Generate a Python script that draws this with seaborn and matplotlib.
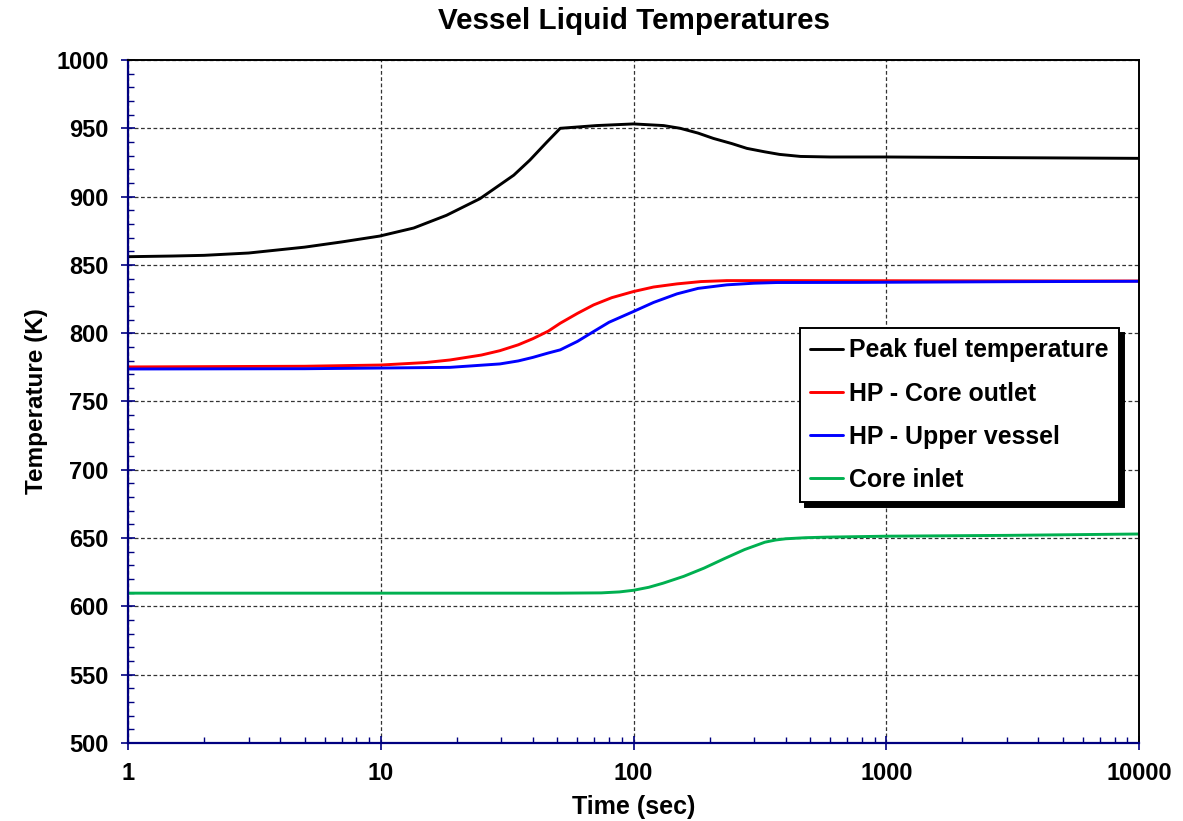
import numpy as np
import pandas as pd
import matplotlib
matplotlib.use("Agg")
import matplotlib.pyplot as plt
from matplotlib.ticker import FixedLocator, FixedFormatter, LogLocator, MultipleLocator, NullFormatter
import seaborn as sns

# Peak fuel temperature
fuel_t = [1, 1.5, 2, 3, 5, 7, 9.9, 13.5, 18.2, 24.7, 33.6, 38.9, 45.3, 51.3, 71.4, 100,
          131.5, 153, 180, 207, 245, 281, 330, 378, 458, 600, 1000, 3000, 10000]
fuel_T = [856, 856.5, 857, 858.7, 863, 866.8, 871.1, 877, 886.3, 898.5, 915.7, 926.7, 939.7, 950,
          952, 953.2, 952, 950, 946.5, 942.6, 938.8, 935.3, 932.8, 930.9, 929.4, 929, 929, 928.5, 928]

# Hot plenum - core outlet
outlet_t = [1, 5, 10, 15, 18.8, 25, 29.6, 35, 40, 46, 51.3, 60, 69.5, 82, 100, 120,
            148.6, 185, 234, 400, 1000, 10000]
outlet_T = [775.3, 775.8, 776.7, 778.5, 780.4, 784, 787.2, 791.5, 796, 801.5, 807.3, 814.5,
            820.7, 826, 830.5, 833.8, 836.1, 837.8, 838.5, 838.5, 838.4, 838.2]

# Hot plenum - upper vessel
upper_t = [1, 5, 10, 18.8, 29.6, 35, 40, 46, 51.3, 60, 69.5, 80, 100, 120, 148.6, 180,
           234, 300, 369, 788, 3000, 10000]
upper_T = [773.8, 774, 774.5, 775, 777.5, 779.7, 782.3, 785.5, 787.8, 794, 801.2, 808, 815.9,
           822.5, 828.8, 832.8, 835.4, 836.6, 837.1, 837.2, 837.7, 838]

# Core inlet
inlet_t = [1, 10, 50, 74.5, 88, 100, 115, 131, 158, 190, 229, 275, 331, 365, 400, 480,
           580, 1000, 3000, 10000]
inlet_T = [609.7, 609.7, 609.7, 609.9, 610.6, 611.8, 614, 617, 622, 628, 635, 641.6, 647,
           648.6, 649.5, 650.3, 650.7, 651.4, 652, 653]

series_names = ["Peak fuel temperature", "HP - Core outlet", "HP - Upper vessel", "Core inlet"]
series_colors = ["#000000", "#FF0000", "#0000FF", "#00B050"]

x_ticks = [1, 10, 100, 1000, 10000]
x_tick_labels = ["1", "10", "100", "1000", "10000"]
y_ticks = list(range(500, 1001, 50))

sns.set_theme(style="white")
plt.rcParams["font.family"] = ["Liberation Sans", "DejaVu Sans"]
plt.rcParams["font.weight"] = "bold"
plt.rcParams["text.color"] = "black"
plt.rcParams["axes.labelcolor"] = "black"
plt.rcParams["xtick.color"] = "black"
plt.rcParams["ytick.color"] = "black"

fig = plt.figure(figsize=(11.83, 8.21), dpi=100)
ax = fig.add_axes([128 / 1183, 1 - 743 / 821, (1139 - 128) / 1183, (743 - 60) / 821])

frames = []
for name, t, T in zip(series_names,
                      [fuel_t, outlet_t, upper_t, inlet_t],
                      [fuel_T, outlet_T, upper_T, inlet_T]):
    frames.append(pd.DataFrame({"Time": t, "Temperature": T, "Series": name}))
df = pd.concat(frames, ignore_index=True)

sns.lineplot(data=df, x="Time", y="Temperature", hue="Series", hue_order=series_names,
             palette=series_colors, linewidth=2.1, sort=False, estimator=None, ax=ax)
for line in ax.get_lines():
    line.set_solid_joinstyle("round")

ax.set_xscale("log")
ax.set_xlim(1, 10000)
ax.set_ylim(500, 1000)

ax.xaxis.set_major_locator(FixedLocator(x_ticks))
ax.xaxis.set_major_formatter(FixedFormatter(x_tick_labels))
ax.xaxis.set_minor_locator(LogLocator(base=10, subs=np.arange(2, 10)))
ax.xaxis.set_minor_formatter(NullFormatter())
ax.yaxis.set_major_locator(FixedLocator(y_ticks))
ax.yaxis.set_minor_locator(MultipleLocator(10))

navy = "#000080"
ax.tick_params(axis="both", which="major", direction="inout", length=10, width=1.2,
               color=navy, labelsize=17, pad=9, labelcolor="black")
ax.tick_params(axis="both", which="minor", direction="in", length=4.5, width=1.0, color=navy)
ax.tick_params(axis="x", which="both", top=False, bottom=True)
ax.tick_params(axis="y", which="both", left=True, right=False)
for lab in ax.get_xticklabels() + ax.get_yticklabels():
    lab.set_fontweight("bold")

ax.grid(True, which="major", color="#333333", linestyle=(0, (3, 2)), linewidth=0.9)
ax.set_axisbelow(True)

for side in ["left", "bottom"]:
    ax.spines[side].set_color(navy)
    ax.spines[side].set_linewidth(1.6)
for side in ["top", "right"]:
    ax.spines[side].set_color("black")
    ax.spines[side].set_linewidth(1.4)
    ax.spines[side].set_visible(True)

ax.set_xlabel("Time (sec)", fontsize=18, fontweight="bold", color="black", labelpad=7)
ax.set_ylabel("Temperature (K)", fontsize=17.5, fontweight="bold", color="black", labelpad=6)
ax.set_title("Vessel Liquid Temperatures", fontsize=21.3, fontweight="bold", color="black", pad=22)

leg = ax.legend(loc="upper left", bbox_to_anchor=((800 - 128) / 1011, (743 - 328) / 683),
                borderaxespad=0, frameon=True, fancybox=False,
                shadow={"ox": 3.5, "oy": -3.5, "facecolor": "black", "edgecolor": "black", "alpha": 1},
                handlelength=1.3, handletextpad=0.25, labelspacing=0.77, borderpad=0.42,
                prop={"weight": "bold", "size": 17.9})
leg.get_frame().set_edgecolor("black")
leg.get_frame().set_linewidth(1.4)
leg.get_frame().set_alpha(1)
for text in leg.get_texts():
    text.set_color("black")
for line in leg.get_lines():
    line.set_linewidth(2.1)

fig.savefig("out.png", dpi=100)
